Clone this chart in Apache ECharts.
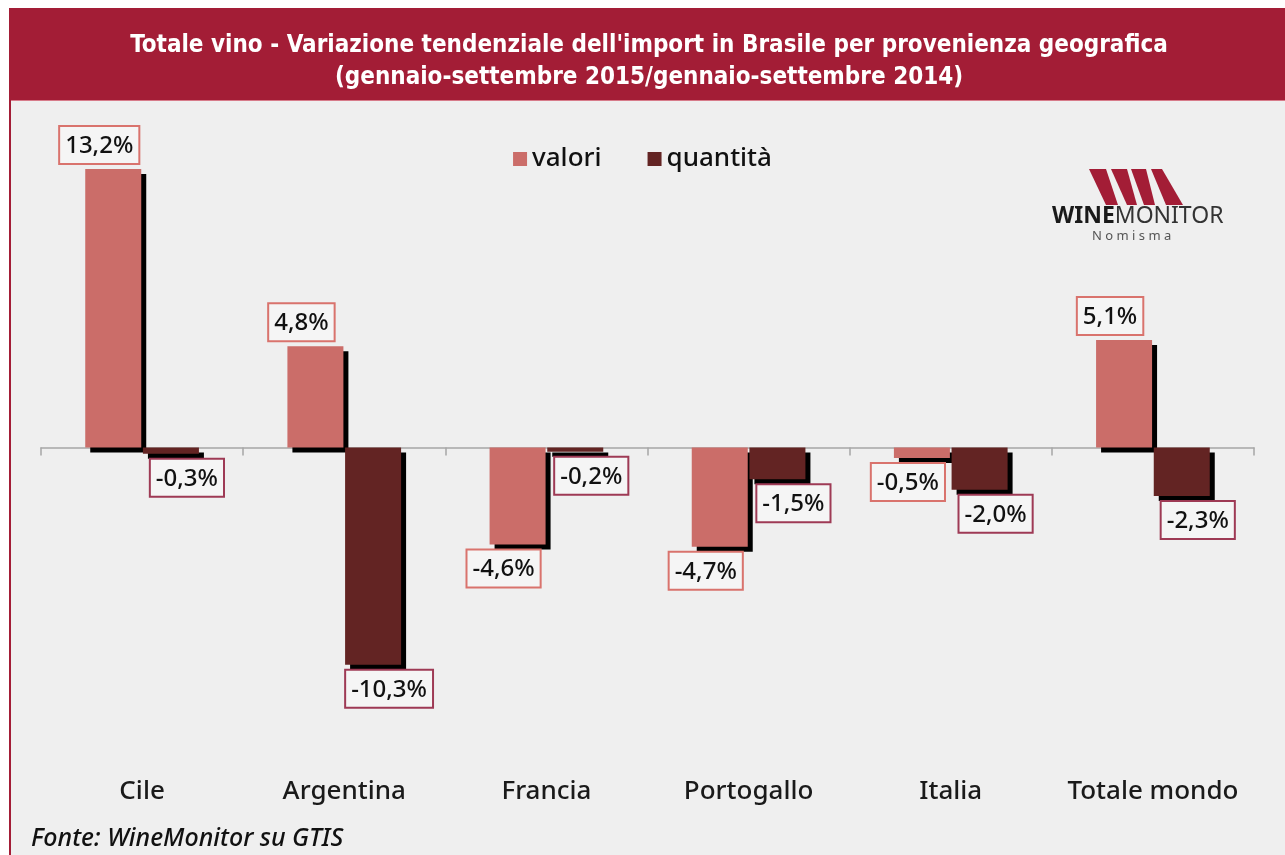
<!DOCTYPE html>
<html>
<head>
<meta charset="utf-8">
<script src="https://cdn.jsdelivr.net/npm/echarts@6/dist/echarts.min.js"></script>
<style>
  html, body { margin: 0; padding: 0; background: #fff; }
  #main { width: 1285px; height: 855px; }
</style>
</head>
<body>
<div id="main"></div>
<script>
    var categorie = ['Cile', 'Argentina', 'Francia', 'Portogallo', 'Italia', 'Totale mondo'];
    var valori = [13.2, 4.8, -4.6, -4.7, -0.5, 5.1];
    var quantita = [-0.3, -10.3, -0.2, -1.5, -2.0, -2.3];
    var nomiSerie = ['valori', 'quantità'];

    var rosso = '#a31d36';
    var font = '"Noto Sans", sans-serif';

    // etichette a riquadro, valore con la virgola
    function etichetta(bordo, dx) {
        return {
            show: true,
            distance: 6,
            offset: [dx, 0],
            formatter: function (p) {
                return p.value.toFixed(1).replace('.', ',') + '%';
            },
            color: '#111',
            fontSize: 24,
            fontWeight: 500,
            fontFamily: font,
            backgroundColor: '#f5f5f5',
            borderColor: bordo,
            borderWidth: 2,
            padding: [7, 5, 5, 5]
        };
    }

    function punti(arr) {
        return arr.map(function (v) {
            return { value: v, label: { position: v >= 0 ? 'top' : 'bottom' } };
        });
    }

    var ombra = {
        shadowColor: '#000',
        shadowBlur: 0,
        shadowOffsetX: 5,
        shadowOffsetY: 5
    };

    var myChart = echarts.init(document.getElementById('main'));

    var option = {
        backgroundColor: '#efefef',
        animation: false,
        title: {
            text: "Totale vino - Variazione tendenziale dell'import in Brasile per provenienza geografica\n(gennaio-settembre 2015/gennaio-settembre 2014)",
            left: 644,
            textAlign: 'center',
            top: 25,
            textStyle: {
                color: '#fff',
                fontSize: 24,
                fontWeight: 'bold',
                fontFamily: '"DejaVu Sans Condensed", "Liberation Sans Narrow", "DejaVu Sans", sans-serif',
                lineHeight: 32
            }
        },
        legend: {
            data: nomiSerie,
            top: 141,
            left: 'center',
            icon: 'rect',
            itemWidth: 14,
            itemHeight: 14,
            itemGap: 46,
            textStyle: { color: '#111', fontSize: 26, fontWeight: 500, fontFamily: font }
        },
        grid: { left: 41, right: 31, top: 131, height: 633 },
        xAxis: [
            {
                type: 'category',
                data: categorie,
                axisLine: { onZero: true, lineStyle: { color: '#a6a6a6', width: 1.5 } },
                axisTick: { show: true, length: 8, lineStyle: { color: '#a6a6a6', width: 1.5 } },
                axisLabel: { show: false }
            },
            {
                type: 'category',
                data: categorie,
                position: 'bottom',
                axisLine: { show: false },
                axisTick: { show: false },
                axisLabel: { interval: 0, color: '#1a1a1a', fontSize: 26, fontWeight: 500, fontFamily: font, margin: 15 }
            }
        ],
        yAxis: {
            type: 'value',
            min: -15,
            max: 15,
            show: false,
            splitLine: { show: false }
        },
        graphic: [
            { type: 'rect', shape: { x: 0, y: 0, width: 1285, height: 8 }, style: { fill: '#fff' } },
            { type: 'rect', shape: { x: 0, y: 0, width: 9, height: 855 }, style: { fill: '#fff' } },
            { type: 'rect', shape: { x: 9, y: 8, width: 1276, height: 92 }, style: { fill: rosso } },
            { type: 'rect', shape: { x: 9, y: 100, width: 1276, height: 1 }, style: { fill: '#d77b8a' } },
            { type: 'rect', shape: { x: 9, y: 100, width: 2, height: 755 }, style: { fill: rosso } },
            {
                type: 'text', left: 31, top: 826,
                style: { text: 'Fonte: WineMonitor su GTIS', fill: '#111', fontSize: 25, fontWeight: 500, fontStyle: 'italic', fontFamily: font }
            },
            // logo WineMonitor
            { type: 'polygon', shape: { points: [[1089, 169], [1106, 169], [1118, 205], [1106, 205]] }, style: { fill: rosso } },
            { type: 'polygon', shape: { points: [[1111, 169], [1127, 169], [1137, 205], [1127, 205]] }, style: { fill: rosso } },
            { type: 'polygon', shape: { points: [[1131, 169], [1146, 169], [1155, 205], [1144, 205]] }, style: { fill: rosso } },
            { type: 'polygon', shape: { points: [[1151, 169], [1162, 169], [1183, 205], [1166, 205]] }, style: { fill: rosso } },
            {
                type: 'text', left: 1052, top: 205,
                style: {
                    text: '{b|WINE}{r|MONITOR}',
                    rich: {
                        b: { fontSize: 23, fontWeight: 'bold', fill: '#1a1a1a', fontFamily: font },
                        r: { fontSize: 23, fill: '#333', fontFamily: font }
                    }
                }
            },
            {
                type: 'text', left: 1092, top: 230,
                style: { text: 'N o m i s m a', fill: '#555', fontSize: 13, fontFamily: font }
            }
        ],
        series: [
            {
                name: nomiSerie[0],
                type: 'bar',
                barWidth: 56,
                barGap: '3%',
                itemStyle: Object.assign({ color: '#cb6d69' }, ombra),
                label: etichetta('#d9736d', -14),
                data: punti(valori)
            },
            {
                name: nomiSerie[1],
                type: 'bar',
                barWidth: 56,
                barGap: '3%',
                itemStyle: Object.assign({ color: '#632423' }, ombra),
                label: etichetta('#9e3a55', 16),
                data: punti(quantita)
            }
        ]
    };

    myChart.setOption(option);
</script>
</body>
</html>
